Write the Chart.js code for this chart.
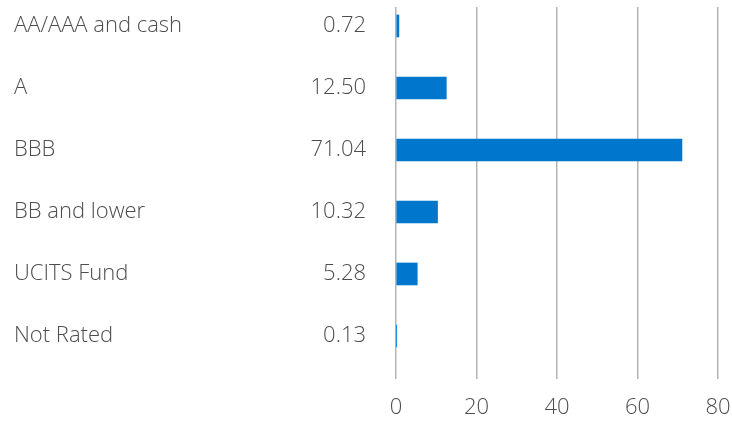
<!DOCTYPE html>
<html>
<head>
<meta charset="utf-8">
<script src="https://cdn.jsdelivr.net/npm/chart.js@4/dist/chart.umd.min.js"></script>
<style>
  html, body { margin: 0; padding: 0; background: #fff; }
  #wrap { width: 732px; height: 421px; }
</style>
</head>
<body>
<div id="wrap"><canvas id="ratingChart"></canvas></div>
<script>
// Credit rating breakdown (%)
const categories = ["AA/AAA and cash", "A", "BBB", "BB and lower", "UCITS Fund", "Not Rated"];
const weights = [0.72, 12.50, 71.04, 10.32, 5.28, 0.13];
const xTicks = [0, 20, 40, 60, 80];

const textFont = { family: "'Open Sans', 'Noto Sans', sans-serif", size: 22, weight: 300 };
const textColor = '#4d4d4d';

// rows sit on integer positions, the grid runs a bit past them
const yMin = -0.306;
const yMax = 5.694;

function rowTicks(scale) {
    scale.ticks = categories.map((c, i) => ({ value: i }));
}

// stop chart.js from reserving extra room for tick labels
function noPad(scale) {
    scale.paddingTop = 0;
    scale.paddingBottom = 0;
    scale.paddingLeft = 0;
    scale.paddingRight = 0;
}

new Chart(document.getElementById('ratingChart'), {
    type: 'bar',
    data: {
        datasets: [{
            data: weights.map((v, i) => ({ x: v, y: i })),
            backgroundColor: '#0077cc',
            barThickness: 22
        }]
    },
    options: {
        indexAxis: 'y',
        responsive: true,
        maintainAspectRatio: false,
        animation: false,
        layout: { padding: { top: 7, left: 14, right: 14, bottom: 0 } },
        scales: {
            x: {
                type: 'linear',
                min: 0,
                max: 80,
                afterBuildTicks: scale => { scale.ticks = xTicks.map(v => ({ value: v })); },
                afterFit: scale => { scale.height = 42; noPad(scale); },
                grid: { color: '#b4b4b4', lineWidth: 1.5, drawTicks: false },
                border: { display: false },
                ticks: { color: textColor, font: textFont, padding: 16 }
            },
            y: {
                type: 'linear',
                position: 'left',
                min: yMin,
                max: yMax,
                offset: false,
                reverse: true,
                weight: 1,
                afterBuildTicks: rowTicks,
                afterFit: scale => { scale.width = 200; noPad(scale); },
                grid: { display: false, offset: false },
                border: { display: false },
                ticks: {
                    color: textColor,
                    font: textFont,
                    crossAlign: 'far',
                    autoSkip: false,
                    padding: 0,
                    callback: (v, i) => categories[i]
                }
            },
            yVal: {
                type: 'linear',
                axis: 'y',
                position: 'left',
                min: yMin,
                max: yMax,
                offset: false,
                reverse: true,
                weight: 0,
                afterBuildTicks: rowTicks,
                afterFit: scale => { scale.width = 182; noPad(scale); },
                grid: { display: false, offset: false },
                border: { display: false },
                ticks: {
                    color: textColor,
                    font: textFont,
                    crossAlign: 'near',
                    autoSkip: false,
                    padding: 22,
                    callback: (v, i) => weights[i].toFixed(2)
                }
            }
        },
        plugins: { legend: { display: false }, tooltip: { enabled: false } }
    }
});
</script>
</body>
</html>
